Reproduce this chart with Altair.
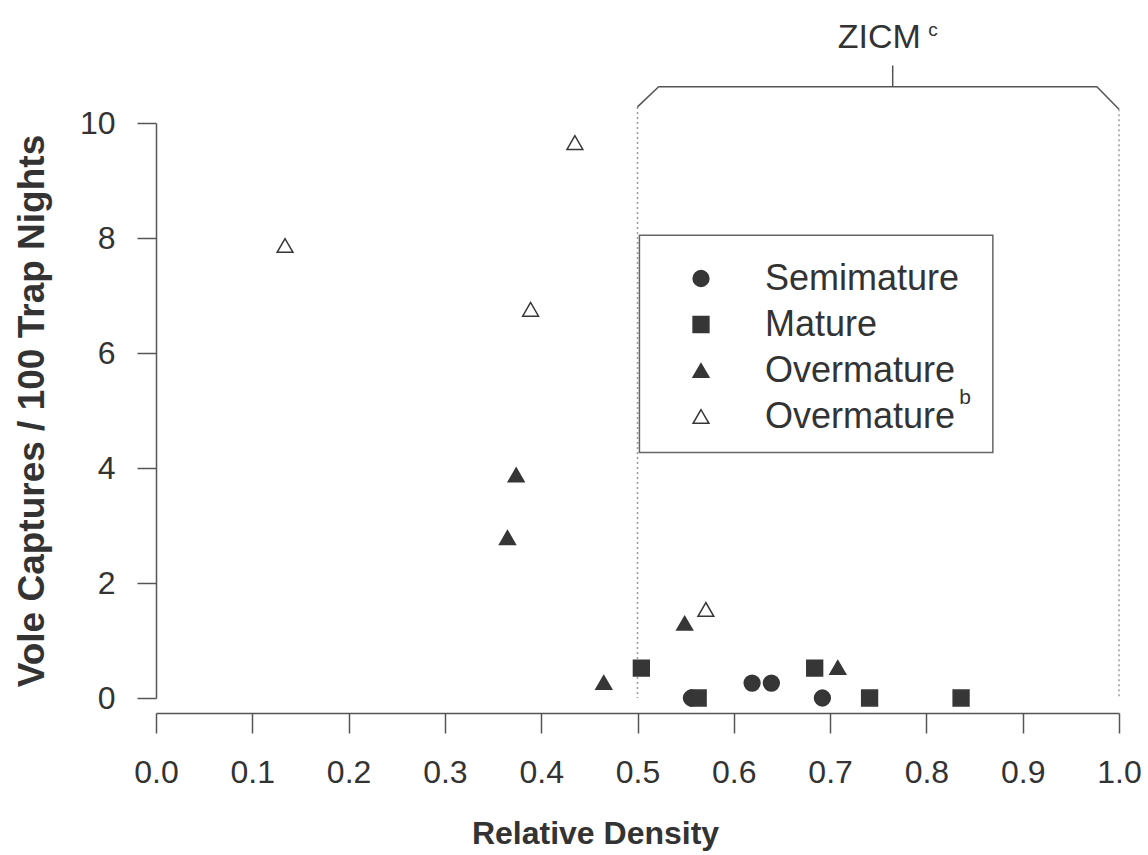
import altair as alt
import pandas as pd

# ---- data ----
semi_x = [0.556, 0.619, 0.639, 0.692]
semi_y = [0.0, 0.26, 0.26, 0.0]
mature_x = [0.504, 0.563, 0.684, 0.741, 0.836]
mature_y = [0.52, 0.0, 0.52, 0.0, 0.0]
over_x = [0.365, 0.374, 0.465, 0.549, 0.708]
over_y = [2.79, 3.88, 0.27, 1.30, 0.53]
overb_x = [0.134, 0.389, 0.435, 0.571]
overb_y = [7.87, 6.76, 9.66, 1.54]

series = ["Semimature", "Mature", "Overmature", "Overmature b"]
shapes = ["circle", "square", "triangle-up", "triangle-up"]
fills = ["#363636", "#363636", "#363636", "#ffffff"]
strokes = ["#363636", "#363636", "#363636", "#363636"]

x_ticks = [0.0, 0.1, 0.2, 0.3, 0.4, 0.5, 0.6, 0.7, 0.8, 0.9, 1.0]
y_ticks = [0, 2, 4, 6, 8, 10]

# ZICM annotation (data units)
zicm_line_x = [0.5, 1.0]
zicm_line_top = [10.28, 10.24]
zicm_line_bottom = [0.0, 0.0]
bracket_x = [0.5, 0.522, 0.977, 1.0]
bracket_y = [10.28, 10.63, 10.63, 10.24]
bracket_tick_x = [0.765]
bracket_tick_y = [10.63]
bracket_tick_y2 = [11.0]
zicm_label = ["ZICM"]
zicm_label_x = [0.751]
zicm_label_y = [11.30]
zicm_sup = ["c"]
zicm_sup_x = [0.802]
zicm_sup_y = [11.62]

legend_box_x = [0.502]
legend_box_x2 = [0.869]
legend_box_y = [8.05]
legend_box_y2 = [4.27]
legend_sup = ["b"]
legend_sup_x = [0.834]
legend_sup_y = [5.22]

# ---- tables ----
rows = []
for name, xs, ys in [
    (series[0], semi_x, semi_y),
    (series[1], mature_x, mature_y),
    (series[2], over_x, over_y),
    (series[3], overb_x, overb_y),
]:
    for a, b in zip(xs, ys):
        rows.append({"x": a, "y": b, "series": name})
pts = pd.DataFrame(rows)

TXT = "#333333"
LINE = "#555555"
FONT = "Liberation Sans"

xscale = alt.Scale(domain=[0, 1], nice=False, zero=False)
yscale = alt.Scale(domain=[0, 10], nice=False, zero=False)

x_axis = alt.Axis(
    values=x_ticks, format=".1f", grid=False, offset=15, labelFlush=False,
    tickSize=20, tickWidth=1.5, tickColor=LINE,
    domainColor=LINE, domainWidth=1.5,
    labelFontSize=32, labelColor=TXT, labelPadding=24, labelFont=FONT,
    titleFontSize=32, titleFontWeight="bold", titleColor=TXT, titleFont=FONT,
    titlePadding=30, titleX=439,
)
y_axis = alt.Axis(
    values=y_ticks, format="d", grid=False, labelFlush=False,
    tickSize=19, tickWidth=1.5, tickColor=LINE,
    domainColor=LINE, domainWidth=1.5,
    labelFontSize=32, labelColor=TXT, labelPadding=22, labelFont=FONT,
    titleFontSize=37, titleFontWeight="bold", titleColor=TXT, titleFont=FONT,
    titlePadding=28,
)

def X(field="x"):
    return alt.X(f"{field}:Q", scale=xscale, axis=x_axis, title="Relative Density")

def Y(field="y"):
    return alt.Y(f"{field}:Q", scale=yscale, axis=y_axis, title="Vole Captures / 100 Trap Nights")

legend = alt.Legend(
    orient="none", legendX=527, legendY=137.5, title=None,
    labelFontSize=36, labelFont=FONT, labelColor=TXT, labelLimit=500,
    symbolSize=250, symbolStrokeColor="#363636", symbolStrokeWidth=1.5,
    symbolOffset=0, labelOffset=46, rowPadding=10, padding=0,
    labelExpr="datum.label == 'Overmature b' ? 'Overmature' : datum.label",
)

points = alt.Chart(pts).mark_point(
    filled=True, size=250, strokeWidth=1.5, opacity=1
).encode(
    x=X(), y=Y(),
    shape=alt.Shape("series:N", scale=alt.Scale(domain=series, range=shapes), legend=legend),
    fill=alt.Fill("series:N", scale=alt.Scale(domain=series, range=fills), legend=legend),
    stroke=alt.Stroke("series:N", scale=alt.Scale(domain=series, range=strokes), legend=legend),
)

dotted = alt.Chart(pd.DataFrame({
    "x": zicm_line_x, "y": zicm_line_top, "y2": zicm_line_bottom
})).mark_rule(color="#9a9a9a", strokeWidth=1.5, strokeDash=[2, 3]).encode(
    x=X(), y=Y(), y2="y2:Q"
)

bracket = alt.Chart(pd.DataFrame({
    "x": bracket_x, "y": bracket_y, "o": list(range(len(bracket_x)))
})).mark_line(color=LINE, strokeWidth=1.5).encode(
    x=X(), y=Y(), order="o:Q"
)

btick = alt.Chart(pd.DataFrame({
    "x": bracket_tick_x, "y": bracket_tick_y, "y2": bracket_tick_y2
})).mark_rule(color=LINE, strokeWidth=1.5).encode(
    x=X(), y=Y(), y2="y2:Q"
)

zicm = alt.Chart(pd.DataFrame({
    "x": zicm_label_x, "y": zicm_label_y, "t": zicm_label
})).mark_text(fontSize=34, font=FONT, color=TXT, align="center", baseline="alphabetic").encode(
    x=X(), y=Y(), text="t:N"
)

zsup = alt.Chart(pd.DataFrame({
    "x": zicm_sup_x, "y": zicm_sup_y, "t": zicm_sup
})).mark_text(fontSize=19, font=FONT, color=TXT, align="left", baseline="middle").encode(
    x=X(), y=Y(), text="t:N"
)

box = alt.Chart(pd.DataFrame({
    "x": legend_box_x, "x2": legend_box_x2, "y": legend_box_y, "y2": legend_box_y2
})).mark_rect(fillOpacity=0, stroke="#666666", strokeWidth=1.5).encode(
    x=X(), x2="x2:Q", y=Y(), y2="y2:Q"
)

lsup = alt.Chart(pd.DataFrame({
    "x": legend_sup_x, "y": legend_sup_y, "t": legend_sup
})).mark_text(fontSize=21, font=FONT, color=TXT, align="left", baseline="middle").encode(
    x=X(), y=Y(), text="t:N"
)

chart = alt.layer(dotted, bracket, btick, zicm, zsup, box, points, lsup).properties(
    width=963, height=575,
    autosize=alt.AutoSizeParams(type="none"),
    padding={"left": 156, "top": 123, "right": 29, "bottom": 157},
    background="white",
).configure(font=FONT).configure_view(strokeWidth=0, stroke="transparent")

chart.save("out.html", embed_options={"renderer": "svg", "actions": False})
